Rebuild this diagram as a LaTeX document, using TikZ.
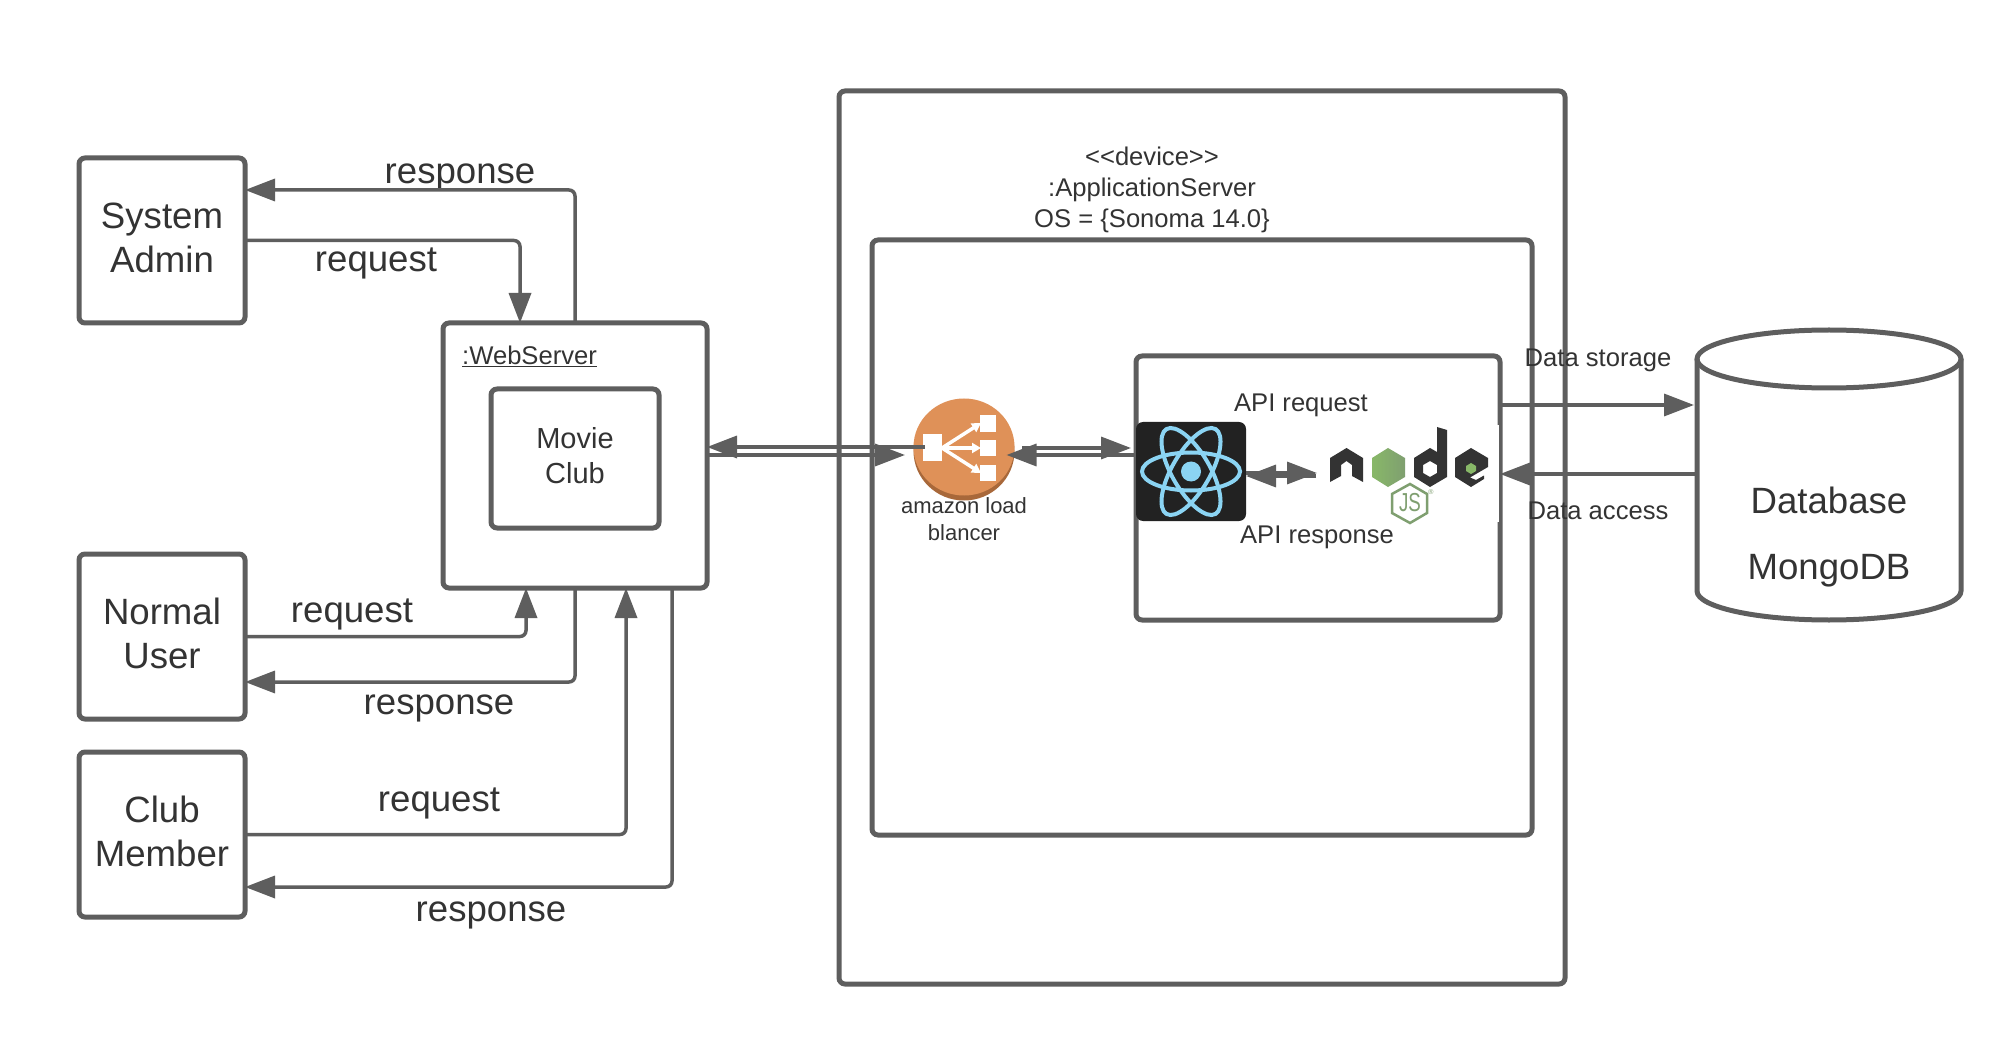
\documentclass[tikz,border=0pt]{standalone}
\usepackage{fontspec}
\setmainfont{Liberation Sans}
\usetikzlibrary{arrows.meta,calc,shapes.geometric}
\definecolor{ln}{HTML}{5E5E5E}
\definecolor{tx}{HTML}{333333}
\definecolor{rc}{HTML}{8BD4F3}
\definecolor{og}{HTML}{DF9158}
\definecolor{ogd}{HTML}{A8683A}
\definecolor{nd}{HTML}{333333}
\definecolor{rbg}{HTML}{222222}
\definecolor{ngl}{HTML}{88B868}
\definecolor{ngd}{HTML}{7F9F70}
\tikzset{
 box/.style={draw=ln,line width=5pt,rounded corners=6pt,outer sep=0pt,inner sep=0pt,align=center,text=tx},
 big/.style={text=tx,inner sep=0pt,align=center,font=\fontsize{36.6}{44}\selectfont},
 mid/.style={text=tx,inner sep=0pt,align=center,font=\fontsize{29}{35}\selectfont},
 lab/.style={text=tx,inner sep=0pt,font=\fontsize{36.6}{44}\selectfont},
 sm/.style={text=tx,inner sep=0pt,font=\fontsize{25.6}{31}\selectfont,align=center},
 tiny/.style={text=tx,inner sep=0pt,font=\fontsize{22}{27}\selectfont,align=center},
 conn/.style={draw=ln,line width=3.5pt,rounded corners=6pt,-{Triangle[length=30pt,width=22pt,fill=ln]}},
 wire/.style={draw=ln,line width=3.5pt,-{Triangle[length=30pt,width=22pt,fill=ln]}},
 lbarrow/.style={white,line width=3.5pt,-{Triangle[length=9pt,width=10pt,fill=white]}}
}
\begin{document}
\begin{tikzpicture}[x=1pt,y=-1pt]
\useasboundingbox (0,0) rectangle (2014,1064);
% boxes
\node[box,minimum width=726,minimum height=893] (outer) at (1202,537.5) {};
\node[box,minimum width=660,minimum height=595] (inner) at (1202,537.5) {};
\node[box,minimum width=364,minimum height=264] (api) at (1318,488) {};
\node[box,minimum width=166,minimum height=165] (sys) at (162,240.5) {};
\node[box,minimum width=166,minimum height=165] (norm) at (162,636.5) {};
\node[box,minimum width=166,minimum height=165] (club) at (162,834.5) {};
\node[big] (syst) at (162,237.5) {System\\Admin};
\node[big] (normt) at (162,633.5) {Normal\\User};
\node[big] (clubt) at (162,831.5) {Club\\Member};
\node[box,minimum width=264,minimum height=265] (web) at (575,455.5) {};
\node[box,minimum width=168,minimum height=139] (movie) at (575,458.5) {};
\node[mid] (moviet) at (575,455.5) {Movie\\Club};
% texts
\node[sm] (dev) at (1152,190) {{<}{<}device{>}{>}\\:ApplicationServer\\OS = \{Sonoma 14.0\}};
\node[sm,anchor=west] (wst) at (462,356) {\underline{:WebServer}};
\node[sm] (apireq) at (1301,405) {API request};
\node[sm] (apires) at (1317,537) {API response};
\node[sm] (dst) at (1598,360) {Data storage};
\node[sm] (dac) at (1598,511) {Data access};
\node[lab] (l1) at (460,177) {response};
\node[lab] (l2) at (376,263) {request};
\node[lab] (l3) at (352,614) {request};
\node[lab] (l4) at (439,708) {response};
\node[lab] (l5) at (439,803) {request};
\node[lab] (l6) at (491,915) {response};
% client connectors
\draw[conn] (web.north) |- (sys.east |- 0,190);
\draw[conn] (sys.east) -| (520,0 |- web.north);
\draw[conn] (norm.east) -| (526,0 |- web.south);
\draw[conn] (web.south) |- (norm.east |- 0,682);
\draw[conn] (club.east) -| (626,0 |- web.south);
\draw[conn] (672,0 |- web.south) |- (club.east |- 0,887);
% load balancer
\node[fill=ogd,ellipse,minimum width=101,minimum height=99,inner sep=0pt,outer sep=0pt] (lbs) at (964,451) {};
\node[fill=og,ellipse,minimum width=101,minimum height=97,inner sep=0pt,outer sep=0pt] (lb) at (964,447) {};
\fill[white] (923,434) rectangle (942,461);
\fill[white] (980,415) rectangle (996,432);
\fill[white] (980,440) rectangle (996,456);
\fill[white] (980,465) rectangle (996,481);
\draw[lbarrow] (942,448) -- (981,423);
\draw[lbarrow] (942,448) -- (981,448);
\draw[lbarrow] (942,448) -- (981,473);
\node[tiny] (lbt) at (964,519) {amazon load\\blancer};
% web - lb
\draw[wire,shorten <=-11pt] (lb.west |- 0,447) -- (web.east |- 0,447);
\draw[wire] (web.east |- 0,455) -- (905,455);
% react
\node[fill=rbg,rounded corners=7pt,minimum width=110,minimum height=99,inner sep=0pt,outer sep=0pt] (react) at (1191,471.5) {};
\begin{scope}[shift={(react.center)}]
\foreach \a in {0,60,120}{\draw[rc,line width=4pt,rotate=\a] (0,0) ellipse [x radius=49,y radius=19];}
\fill[rc] (0,0) circle (10);
\end{scope}
% lb - react
\draw[wire] (1022,448) -- (1131,448);
\draw[wire,shorten >=-8pt] (react.west |- 0,455) -- (lb.east |- 0,455);
% node logo
\fill[white] (1320,425) rectangle (1499,522);
\coordinate (nlogo) at (1317,476);
\fill[nd] (1330,458) -- (1346.5,448) -- (1363,458) -- (1363,482) -- (1352,476) -- (1352,465) -- (1346.5,461) -- (1341,465) -- (1341,476) -- (1330,482) -- cycle;
\shade[left color=ngl,right color=ngd] (1388,448) -- (1405,458) -- (1405,477) -- (1388,487) -- (1372,477) -- (1372,458) -- cycle;
\fill[nd,even odd rule] (1447,430) -- (1447,477) -- (1430,487) -- (1414,477) -- (1414,458) -- (1430,448) -- (1437,452) -- (1437,427) -- cycle (1430,461) -- (1423,465) -- (1423,473) -- (1430,477) -- (1437,473) -- (1437,465) -- cycle;
\fill[nd] (1471,448) -- (1488,458) -- (1488,467) -- (1470,477.5) -- (1476,480) -- (1484,475.5) -- (1484,479) -- (1471,487) -- (1455,477) -- (1455,458) -- cycle;
\fill[ngl] (1471,463) -- (1476,466) -- (1476,471) -- (1471,474) -- (1466,471) -- (1466,466) -- cycle;
\draw[ngd,line width=2.5pt,fill=white] (1410,484) -- (1427,494) -- (1427,513) -- (1410,523) -- (1392,513) -- (1392,494) -- cycle;
\node[inner sep=0pt,text=ngd,xscale=.72,font=\fontsize{26}{26}\selectfont] (js) at (1410,503) {JS};
\node[inner sep=0pt,text=ngd,font=\fontsize{7}{7}\selectfont] (jsr) at (1431,492) {®};
% react - node
\draw[wire] (1316,476) -- (react.east |- 0,476);
\draw[wire] (react.east |- 0,473) -- (nlogo |- 0,473);
% database
\node[minimum width=264,minimum height=290,inner sep=0pt,outer sep=0pt] (db) at (1829,475) {};
\draw[ln,line width=5pt] (1697,359) -- (1697,591) arc[start angle=180,end angle=0,x radius=132,y radius=29] -- (1961,359);
\draw[ln,line width=5pt] (1829,359) ellipse [x radius=132,y radius=29];
\node[lab] (d1) at (1829,500) {Database};
\node[lab] (d2) at (1829,571) {MongoDB};
\draw[conn,rounded corners=0pt,shorten >=3pt] (api.east |- 0,405) -- (db.west |- 0,405);
\draw[conn,rounded corners=0pt] (db.west |- 0,474) -- (api.east |- 0,474);
\end{tikzpicture}
\end{document}
